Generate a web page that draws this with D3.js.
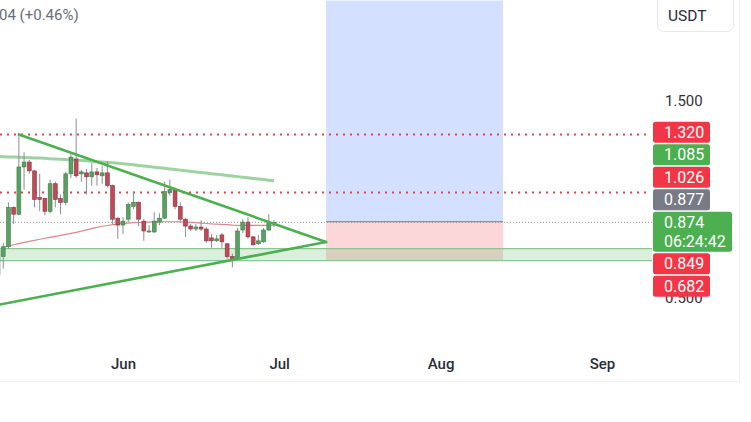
<!DOCTYPE html>
<html><head><meta charset="utf-8">
<script src="https://cdn.jsdelivr.net/npm/d3@7"></script>
<style>html,body{margin:0;padding:0;background:#fff;overflow:hidden}svg{display:block;font-family:Roboto,"Noto Sans",sans-serif}</style>
</head><body>
<svg id="c" width="751" height="422"></svg>
<script>
// ---- data (day offsets from 1 Jun) ----
const candleDays = [-24,-23,-22,-21,-20,-19,-18,-17,-16,-15,-14,-13,-12,-11,-10,-9,-8,-7,-6,-5,-4,-3,-2,-1,0,1,2,3,4,5,6,7,8,9,10,11,12,13,14,15,16,17,18,19,20,21,22,23,24,25,26,27,28,29];
const opens  = [0.61,0.70,0.75,0.95,0.915,1.155,1.18,1.135,1.00,0.995,0.93,1.07,0.995,0.975,1.12,1.195,1.12,1.125,1.105,1.13,1.11,1.125,1.06,0.895,0.86,0.89,0.955,0.975,0.88,0.825,0.825,0.875,0.895,1.025,1.04,0.955,0.89,0.855,0.84,0.85,0.84,0.795,0.78,0.81,0.765,0.70,0.695,0.835,0.875,0.80,0.765,0.775,0.835,0.87];
const highs  = [0.75,0.77,0.975,0.955,1.32,1.23,1.19,1.14,1.12,1.00,1.09,1.08,1.015,1.13,1.22,1.40,1.14,1.145,1.175,1.15,1.16,1.185,1.065,0.90,0.90,0.975,1.03,0.98,0.89,0.86,0.925,0.92,1.08,1.09,1.05,0.975,0.895,0.865,0.865,0.885,0.85,0.815,0.81,0.82,0.77,0.715,0.845,0.89,0.90,0.805,0.81,0.845,0.915,0.885];
const lows   = [0.57,0.64,0.74,0.865,0.91,1.04,1.12,0.95,0.93,0.91,0.92,0.95,0.915,0.96,1.10,1.10,1.08,1.015,1.06,1.06,1.07,1.05,0.865,0.79,0.815,0.875,0.94,0.855,0.78,0.82,0.82,0.86,0.89,1.01,0.94,0.88,0.80,0.83,0.83,0.83,0.77,0.745,0.775,0.745,0.69,0.645,0.69,0.82,0.79,0.755,0.76,0.77,0.83,0.85];
const closes = [0.73,0.75,0.95,0.915,1.155,1.18,1.135,0.99,0.99,0.93,1.07,0.99,0.975,1.12,1.205,1.11,1.13,1.105,1.13,1.115,1.125,1.06,0.89,0.86,0.88,0.965,0.975,0.89,0.83,0.83,0.88,0.895,1.03,1.04,0.955,0.89,0.855,0.84,0.85,0.84,0.78,0.78,0.79,0.775,0.70,0.69,0.83,0.875,0.80,0.76,0.78,0.835,0.875,0.874];
// short moving average (pink), from day -23
const maShortDays = candleDays.slice(1);
const maShort = [0.748,0.754,0.760,0.766,0.772,0.777,0.782,0.788,0.793,0.798,0.803,0.808,0.813,0.818,0.823,0.829,0.836,0.842,0.848,0.854,0.858,0.862,0.865,0.868,0.870,0.872,0.873,0.874,0.875,0.876,0.876,0.877,0.877,0.877,0.876,0.875,0.874,0.872,0.870,0.868,0.866,0.865,0.864,0.862,0.860,0.859,0.859,0.860,0.859,0.858,0.858,0.859,0.860];
// long moving average (light green)
const maLong = [1.208,1.207,1.206,1.205,1.204,1.203,1.202,1.201,1.200,1.199,1.197,1.196,1.194,1.193,1.191,1.190,1.188,1.186,1.184,1.182,1.180,1.178,1.176,1.174,1.171,1.169,1.166,1.163,1.160,1.157,1.154,1.151,1.148,1.145,1.142,1.139,1.136,1.133,1.130,1.127,1.124,1.121,1.118,1.115,1.112,1.109,1.106,1.103,1.100,1.097,1.094,1.091,1.088,1.085];
// triangle drawing [day, price]
const triUpper = [[-20,1.320],[39,0.774]];
const triLower = [[-24,0.455],[39,0.774]];
// horizontal levels
const resistanceLevels = [1.320,1.026];
const currentPrice = 0.874;
const supportBand = [0.68,0.74];
// position tool
const posStartDay = 39, posEndDay = 73, posEntry = 0.877, posStop = 0.682, posTarget = 2.0;
// price axis labels
const priceTicks = [0.5,1.5];
const axisLabels = [
  {v:1.320,c:"#f23645"},{v:1.085,c:"#4caf50"},{v:1.026,c:"#f23645"},{v:0.877,c:"#787b86"},
  {v:0.874,c:"#4caf50",sub:"06:24:42",main:true},{v:0.849,c:"#f23645"},{v:0.682,c:"#f23645"}];
const monthTicks = ["2024-06-01","2024-07-01","2024-08-01","2024-09-01"];
const headerText = "04 (+0.46%)";
const currencyText = "USDT";

// ---- scales ----
const base = new Date(2024,5,1);
const d = k => d3.timeDay.offset(base,k);
const x = d3.scaleTime().domain([new Date(2024,5,1),new Date(2024,8,1)]).range([123,602]);
const y = d3.scaleLinear().domain([0.5,1.5]).range([296,99]);
const paneW = 652, paneH = 340, axisR = 739;

const svg = d3.select("#c");
svg.append("rect").attr("width",751).attr("height",422).attr("fill","#fff");
svg.append("defs").append("clipPath").attr("id","pane").append("rect").attr("x",0).attr("y",0).attr("width",paneW).attr("height",paneH);
const g = svg.append("g").attr("clip-path","url(#pane)");

// position tool
const px0 = x(d(posStartDay)), px1 = x(d(posEndDay));
g.append("rect").attr("x",px0).attr("width",px1-px0).attr("y",y(posTarget)).attr("height",y(posEntry)-y(posTarget)).attr("fill","rgba(41,98,255,0.2)");
g.append("rect").attr("x",px0).attr("width",px1-px0).attr("y",y(posEntry)).attr("height",y(posStop)-y(posEntry)).attr("fill","rgba(242,54,69,0.2)");
g.append("line").attr("x1",px0).attr("x2",px1).attr("y1",y(posEntry)).attr("y2",y(posEntry)).attr("stroke","#787b86").attr("stroke-width",1);

// support band
g.append("rect").attr("x",0).attr("width",paneW).attr("y",y(supportBand[1])).attr("height",y(supportBand[0])-y(supportBand[1])).attr("fill","rgba(76,175,80,0.2)");
supportBand.forEach(v=>g.append("line").attr("x1",0).attr("x2",paneW).attr("y1",y(v)).attr("y2",y(v)).attr("stroke","#8cc68f").attr("stroke-width",1.2));

// current price dotted
g.append("line").attr("x1",0).attr("x2",paneW).attr("y1",y(currentPrice)).attr("y2",y(currentPrice)).attr("stroke","#9598a1").attr("stroke-width",1).attr("stroke-dasharray","1,2");

// resistance dotted
resistanceLevels.forEach(v=>g.append("line").attr("x1",0).attr("x2",paneW-4).attr("y1",y(v)).attr("y2",y(v)).attr("stroke","#e0454f").attr("stroke-width",2).attr("stroke-dasharray","2,5"));

// moving averages
const line = d3.line().x(p=>x(d(p[0]))).y(p=>y(p[1]));
g.append("path").attr("d",line(candleDays.map((k,i)=>[k,maLong[i]]))).attr("fill","none").attr("stroke","#86c889").attr("stroke-opacity",0.8).attr("stroke-width",3);
g.append("path").attr("d",line(maShortDays.map((k,i)=>[k,maShort[i]]))).attr("fill","none").attr("stroke","#d98890").attr("stroke-width",1.2);

// candles
const step = x(d(1))-x(d(0)), bw = step*0.74;
const cg = g.append("g");
candleDays.forEach((k,i)=>{
  const cx = x(d(k)), up = closes[i]>=opens[i];
  cg.append("line").attr("x1",cx).attr("x2",cx).attr("y1",y(highs[i])).attr("y2",y(lows[i])).attr("stroke","#8a8d95").attr("stroke-width",1);
  const top = y(Math.max(opens[i],closes[i])), bot = y(Math.min(opens[i],closes[i]));
  cg.append("rect").attr("x",cx-bw/2).attr("width",bw).attr("y",top).attr("height",Math.max(1,bot-top))
    .attr("fill",up?"#5a9f63":"#bd4a57").attr("stroke",up?"#3f7f48":"#8e3340").attr("stroke-width",0.6);
});

// triangle
[triUpper,triLower].forEach(t=>g.append("path").attr("d",line(t)).attr("fill","none").attr("stroke","#4caf50").attr("stroke-width",2.6).attr("stroke-linecap","round"));

// price axis ticks
const ax = svg.append("g").attr("transform","translate(653,2)").call(d3.axisRight(y).tickValues(priceTicks).tickFormat(d3.format(".3f")).tickSize(0).tickPadding(12));
ax.select(".domain").remove();
ax.selectAll("text").attr("font-size",15).attr("fill","#333").attr("font-family","Roboto,sans-serif");

// price labels with stacking
const lh = 21, gap = 1.5;
const mainL = axisLabels.find(l=>l.main);
const mainCy = y(mainL.v);
mainL.cy = mainCy; mainL.h = 40; mainL.top = mainCy - lh/2;
let prevTop = mainL.top;
axisLabels.filter(l=>l.v>mainL.v).sort((a,b)=>a.v-b.v).forEach(l=>{l.cy=Math.min(y(l.v),prevTop-gap-lh/2);l.top=l.cy-lh/2;l.h=lh;prevTop=l.top;});
let prevBot = mainL.top + mainL.h;
axisLabels.filter(l=>l.v<mainL.v).sort((a,b)=>b.v-a.v).forEach(l=>{l.cy=Math.max(y(l.v),prevBot+gap+lh/2);l.top=l.cy-lh/2;l.h=lh;prevBot=l.top+l.h;});
const lg = svg.append("g");
axisLabels.forEach(l=>{
  lg.append("rect").attr("x",653).attr("y",l.top).attr("width",l.main?79:57).attr("height",l.h).attr("rx",2.5).attr("fill",l.c);
  lg.append("text").attr("x",664).attr("y",l.cy+5.6).attr("font-size",16).attr("fill","#fff").text(l.v.toFixed(3));
  if(l.sub) lg.append("text").attr("x",664).attr("y",l.cy+5.6+19).attr("font-size",16).attr("fill","#fff").text(l.sub);
});

// time axis
const tg = svg.append("g").attr("transform","translate(0,364)").call(d3.axisBottom(x).tickValues(monthTicks.map(s=>d3.timeParse("%Y-%m-%d")(s))).tickFormat(d3.timeFormat("%b")).tickSize(0).tickPadding(0));
tg.select(".domain").remove();
tg.selectAll("text").attr("font-size",15).attr("font-weight",500).attr("fill","#2a2e39").attr("font-family","Roboto,sans-serif").attr("dy","0.35em");

// frame lines
svg.append("line").attr("x1",0).attr("x2",axisR).attr("y1",381.5).attr("y2",381.5).attr("stroke","#efefef");
svg.append("line").attr("x1",axisR+0.5).attr("x2",axisR+0.5).attr("y1",0).attr("y2",381.5).attr("stroke","#efefef");

// header
svg.append("text").attr("x",-1).attr("y",20).attr("font-size",15).attr("fill","#6a6d78").text(headerText);
svg.append("rect").attr("x",657.5).attr("y",-6).attr("width",76).attr("height",37.5).attr("rx",6).attr("fill","#fff").attr("stroke","#e6e8ee");
svg.append("text").attr("x",668).attr("y",21).attr("font-size",15.5).attr("fill","#2a2e39").text(currencyText);
</script>
</body></html>
